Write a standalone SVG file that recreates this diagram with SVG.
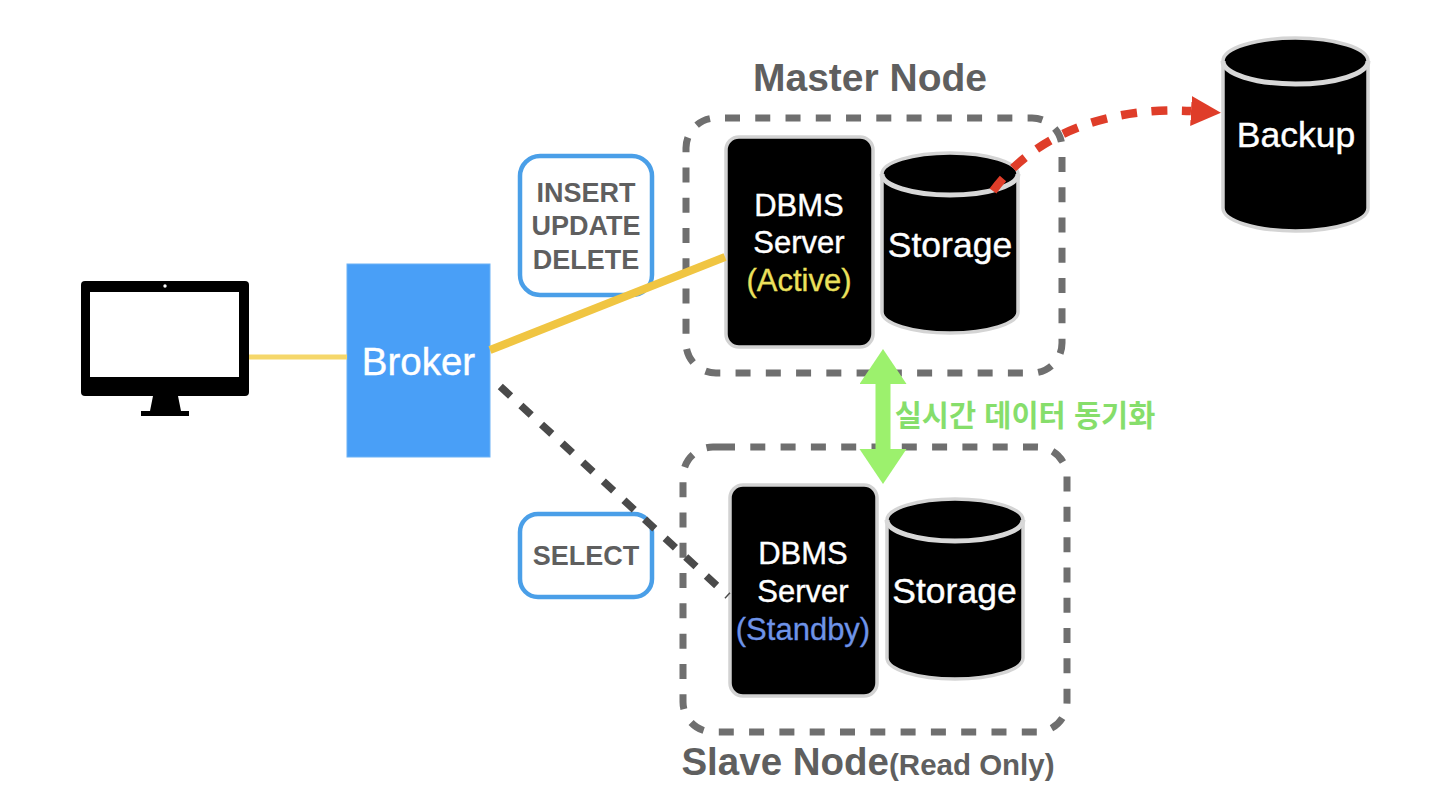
<svg xmlns="http://www.w3.org/2000/svg" width="1440" height="797" viewBox="0 0 1440 797">
<style>
text{font-family:"Liberation Sans","Noto Sans CJK KR",sans-serif;text-anchor:middle}
.w{fill:#fff;stroke:#fff;stroke-width:.4}
.g{fill:#5f5f5f;font-weight:700}
.t30{font-size:31px}
.t36{font-size:35.5px}
.lbl{font-size:27px}
.box{fill:#fff;stroke:#4a9fe8;stroke-width:4.5}
.srv{fill:#000;stroke:#d2d2d2;stroke-width:3.5}
.frame{fill:none;stroke:#6f6f6f;stroke-width:7}
.body{fill:#000;stroke:#d4d4d4;stroke-width:3.5}
.rim{fill:none;stroke:#d8d8d8;stroke-width:5}
</style>
<defs>
<marker id="redHead" markerUnits="userSpaceOnUse" markerWidth="32" markerHeight="32" refX="0" refY="15" orient="auto"><polygon points="0,0 30,15 0,30" fill="#df3d29"/></marker>
<marker id="greenHead" markerUnits="userSpaceOnUse" markerWidth="36" markerHeight="48" refX="1" refY="23.5" orient="auto-start-reverse"><polygon points="0,0 35,23.5 0,47" fill="#9cf16d"/></marker>
</defs>
<rect width="1440" height="797" fill="#fff"/>
<g id="monitor">
<rect x="81" y="281" width="168" height="115" rx="4" fill="#000"/>
<rect x="90" y="292" width="149" height="85" fill="#fff"/>
<circle cx="165" cy="286" r="1.7" fill="#fff"/>
<polygon points="153,396 178,396 181,411 189,411 189,416 141,416 141,411 150,411" fill="#000"/>
</g>
<g id="broker">
<rect x="347" y="264" width="143" height="193" fill="#499ff7" stroke="#6db2f5" stroke-width="1"/>
<text class="w" x="418.500" y="375" font-size="38.500">Broker</text>
</g>
<g id="label-write">
<rect class="box" x="520" y="156" width="132" height="139" rx="20"/>
<text class="g lbl" x="586" y="202">INSERT</text>
<text class="g lbl" x="586" y="235">UPDATE</text>
<text class="g lbl" x="586" y="269">DELETE</text>
</g>
<g id="label-read">
<rect class="box" x="520" y="514" width="132" height="83" rx="18"/>
<text class="g lbl" x="586" y="565">SELECT</text>
</g>
<g id="master-frame">
<path class="frame" stroke-dasharray="15 15.26" stroke-dashoffset="-9" d="M716,118 H1032 A30,30 0 0 1 1062,148 V343 A30,30 0 0 1 1032,373 H716 A30,30 0 0 1 686,343 V148 A30,30 0 0 1 716,118 Z"/>
<text class="g" x="870" y="91" font-size="39">Master Node</text>
</g>
<g id="slave-frame">
<path class="frame" stroke-dasharray="15 15.3" d="M720,447 H1037 A30,30 0 0 1 1067,477 V702 A30,30 0 0 1 1037,732 H713 A30,30 0 0 1 683,702 V477 A30,30 0 0 1 713,447 Z"/>
<text class="g" x="868" y="775" font-size="38.500">Slave Node<tspan font-size="29.500">(Read Only)</tspan></text>
</g>
<g id="master-dbms">
<rect class="srv" x="726" y="137" width="147" height="210" rx="13"/>
<text class="w t30" x="799" y="216">DBMS</text>
<text class="w t30" x="799" y="253">Server</text>
<text class="t30" x="799" y="291" fill="#ebe05c" stroke="#ebe05c" stroke-width=".3">(Active)</text>
</g>
<g id="slave-dbms">
<rect class="srv" x="730" y="485" width="147" height="211" rx="13"/>
<text class="w t30" x="803" y="564">DBMS</text>
<text class="w t30" x="803" y="602">Server</text>
<text class="t30" x="803" y="640" fill="#6e93e8" stroke="#6e93e8" stroke-width=".3">(Standby)</text>
</g>
<g id="master-storage">
<path class="body" d="M882,174 A68,21 0 0 1 1018,174 V312 A68,21 0 0 1 882,312 Z"/>
<path class="rim" d="M882,174 A68,21 0 0 0 1018,174"/>
<text class="w t36" x="950" y="257">Storage</text>
</g>
<g id="slave-storage">
<path class="body" d="M887,520 A68,21 0 0 1 1023,520 V658 A68,21 0 0 1 887,658 Z"/>
<path class="rim" d="M887,520 A68,21 0 0 0 1023,520"/>
<text class="w t36" x="954.500" y="603">Storage</text>
</g>
<g id="backup">
<path class="body" d="M1223,61 A72.500,23 0 0 1 1368,61 V208 A72.500,23 0 0 1 1223,208 Z"/>
<path class="rim" d="M1223,61 A72.500,23 0 0 0 1368,61"/>
<text class="w t36" x="1296" y="147">Backup</text>
</g>
<g id="connectors" fill="none">
<line x1="249" y1="357" x2="347" y2="357" stroke="#f5d76b" stroke-width="5"/>
<line x1="490" y1="350" x2="725" y2="257" stroke="#f0c542" stroke-width="8"/>
<path d="M490,377 L728,596" stroke="#4a4a4a" stroke-width="7.500" stroke-dasharray="14 14" stroke-dashoffset="14"/>
<path d="M993,191 C1030,140 1100,106 1191,111" stroke="#df3d29" stroke-width="8.500" stroke-dasharray="16 14.500" marker-end="url(#redHead)"/>
<line x1="883" y1="383" x2="883" y2="450" stroke="#9cf16d" stroke-width="15" marker-start="url(#greenHead)" marker-end="url(#greenHead)"/>
</g>
<text x="1025" y="426" font-size="29.500" font-weight="700" fill="#86de6b">실시간 데이터 동기화</text>
</svg>
